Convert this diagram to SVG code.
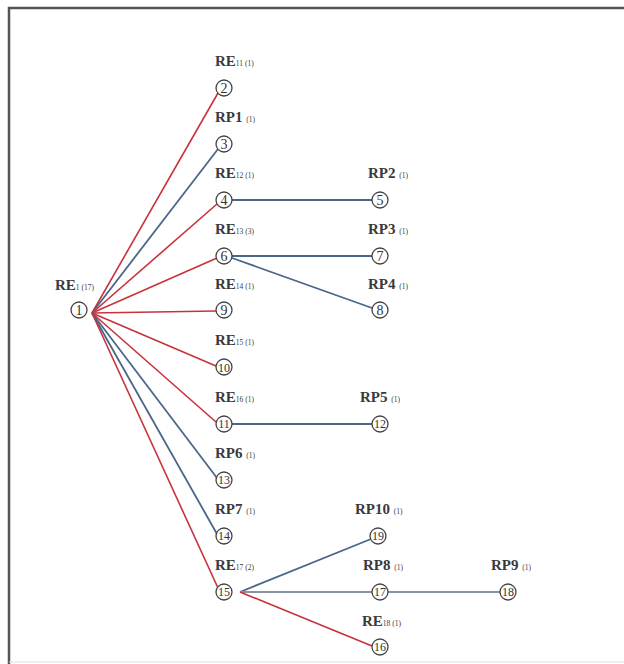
<svg xmlns="http://www.w3.org/2000/svg" width="624" height="664" viewBox="0 0 624 664">
<style>
.frame{stroke:#555;stroke-width:2.5;fill:none}
.re{stroke:#c8323c;stroke-width:1.6;fill:none}
.rp{stroke:#4a6688;stroke-width:1.8;fill:none}
.gr{stroke:#8a94a0;stroke-width:1.8;fill:none}
circle{fill:#fff;stroke:#444;stroke-width:1.3}
.n{font-family:"Liberation Serif",serif;font-size:14px;fill:#333;text-anchor:middle}
.l{font-family:"Liberation Serif",serif;font-size:15px;font-weight:bold;fill:#3a3a3a}
.s{font-size:7.5px;font-weight:normal}
</style>
<rect width="624" height="664" fill="#fff"/>
<path class="frame" d="M9,664 V8 H624"/>
<line x1="9" y1="662" x2="624" y2="662" stroke="#ddd" stroke-width="1"/>
<g id="connectors">
<line class="re" x1="92" y1="313" x2="218" y2="93"/>
<line class="rp" x1="92" y1="313" x2="218" y2="149"/>
<line class="re" x1="92" y1="313" x2="217" y2="204"/>
<line class="re" x1="92" y1="313" x2="217" y2="258"/>
<line class="re" x1="92" y1="313" x2="216" y2="311"/>
<line class="re" x1="92" y1="313" x2="216" y2="366"/>
<line class="re" x1="92" y1="313" x2="216" y2="422"/>
<line class="rp" x1="92" y1="313" x2="217" y2="478"/>
<line class="rp" x1="92" y1="313" x2="217" y2="534"/>
<line class="re" x1="92" y1="313" x2="218" y2="588"/>
<line class="rp" x1="232" y1="200" x2="372" y2="200"/>
<line class="rp" x1="232" y1="256" x2="372" y2="256"/>
<line class="rp" x1="232" y1="258" x2="372" y2="308"/>
<line class="rp" x1="232" y1="424" x2="372" y2="424"/>
<line class="rp" x1="240" y1="592" x2="371" y2="539"/>
<line class="gr" x1="240" y1="592" x2="372" y2="592"/>
<line class="gr" x1="388" y1="592" x2="500" y2="592"/>
<line class="re" x1="240" y1="592" x2="372" y2="646"/>
</g>
<g id="node1"><text class="l" x="55" y="290">RE<tspan class="s">1 (17)</tspan></text><circle cx="79" cy="310" r="8"/><text class="n" x="79" y="315">1</text></g>
<g id="node2"><text class="l" x="215" y="66">RE<tspan class="s">11 (1)</tspan></text><circle cx="224" cy="88" r="8"/><text class="n" x="224" y="93">2</text></g>
<g id="node3"><text class="l" x="215" y="122">RP1 <tspan class="s">(1)</tspan></text><circle cx="224" cy="144" r="8"/><text class="n" x="224" y="149">3</text></g>
<g id="node4"><text class="l" x="215" y="178">RE<tspan class="s">12 (1)</tspan></text><circle cx="224" cy="200" r="8"/><text class="n" x="224" y="205">4</text></g>
<g id="node5"><text class="l" x="368" y="178">RP2 <tspan class="s">(1)</tspan></text><circle cx="380" cy="200" r="8"/><text class="n" x="380" y="205">5</text></g>
<g id="node6"><text class="l" x="215" y="234">RE<tspan class="s">13 (3)</tspan></text><circle cx="224" cy="256" r="8"/><text class="n" x="224" y="261">6</text></g>
<g id="node7"><text class="l" x="368" y="234">RP3 <tspan class="s">(1)</tspan></text><circle cx="380" cy="256" r="8"/><text class="n" x="380" y="261">7</text></g>
<g id="node8"><text class="l" x="368" y="289">RP4 <tspan class="s">(1)</tspan></text><circle cx="380" cy="310" r="8"/><text class="n" x="380" y="315">8</text></g>
<g id="node9"><text class="l" x="215" y="289">RE<tspan class="s">14 (1)</tspan></text><circle cx="224" cy="310" r="8"/><text class="n" x="224" y="315">9</text></g>
<g id="node10"><text class="l" x="215" y="345">RE<tspan class="s">15 (1)</tspan></text><circle cx="224" cy="367" r="8"/><text class="n" x="224" y="372" style="font-size:12px">10</text></g>
<g id="node11"><text class="l" x="215" y="402">RE<tspan class="s">16 (1)</tspan></text><circle cx="224" cy="424" r="8"/><text class="n" x="224" y="428" style="font-size:12px">11</text></g>
<g id="node12"><text class="l" x="360" y="402">RP5 <tspan class="s">(1)</tspan></text><circle cx="380" cy="424" r="8"/><text class="n" x="380" y="428" style="font-size:12px">12</text></g>
<g id="node13"><text class="l" x="215" y="458">RP6 <tspan class="s">(1)</tspan></text><circle cx="224" cy="480" r="8"/><text class="n" x="224" y="484" style="font-size:12px">13</text></g>
<g id="node14"><text class="l" x="215" y="514">RP7 <tspan class="s">(1)</tspan></text><circle cx="224" cy="536" r="8"/><text class="n" x="224" y="540" style="font-size:12px">14</text></g>
<g id="node15"><text class="l" x="215" y="570">RE<tspan class="s">17 (2)</tspan></text><circle cx="224" cy="592" r="8"/><text class="n" x="224" y="596" style="font-size:12px">15</text></g>
<g id="node19"><text class="l" x="355" y="514">RP10 <tspan class="s">(1)</tspan></text><circle cx="378" cy="536" r="8"/><text class="n" x="378" y="540" style="font-size:12px">19</text></g>
<g id="node17"><text class="l" x="363" y="570">RP8 <tspan class="s">(1)</tspan></text><circle cx="380" cy="592" r="8"/><text class="n" x="380" y="596" style="font-size:12px">17</text></g>
<g id="node18"><text class="l" x="491" y="570">RP9 <tspan class="s">(1)</tspan></text><circle cx="508" cy="592" r="8"/><text class="n" x="508" y="596" style="font-size:12px">18</text></g>
<g id="node16"><text class="l" x="362" y="626">RE<tspan class="s">18 (1)</tspan></text><circle cx="380" cy="647" r="8"/><text class="n" x="380" y="651" style="font-size:12px">16</text></g>
</svg>
